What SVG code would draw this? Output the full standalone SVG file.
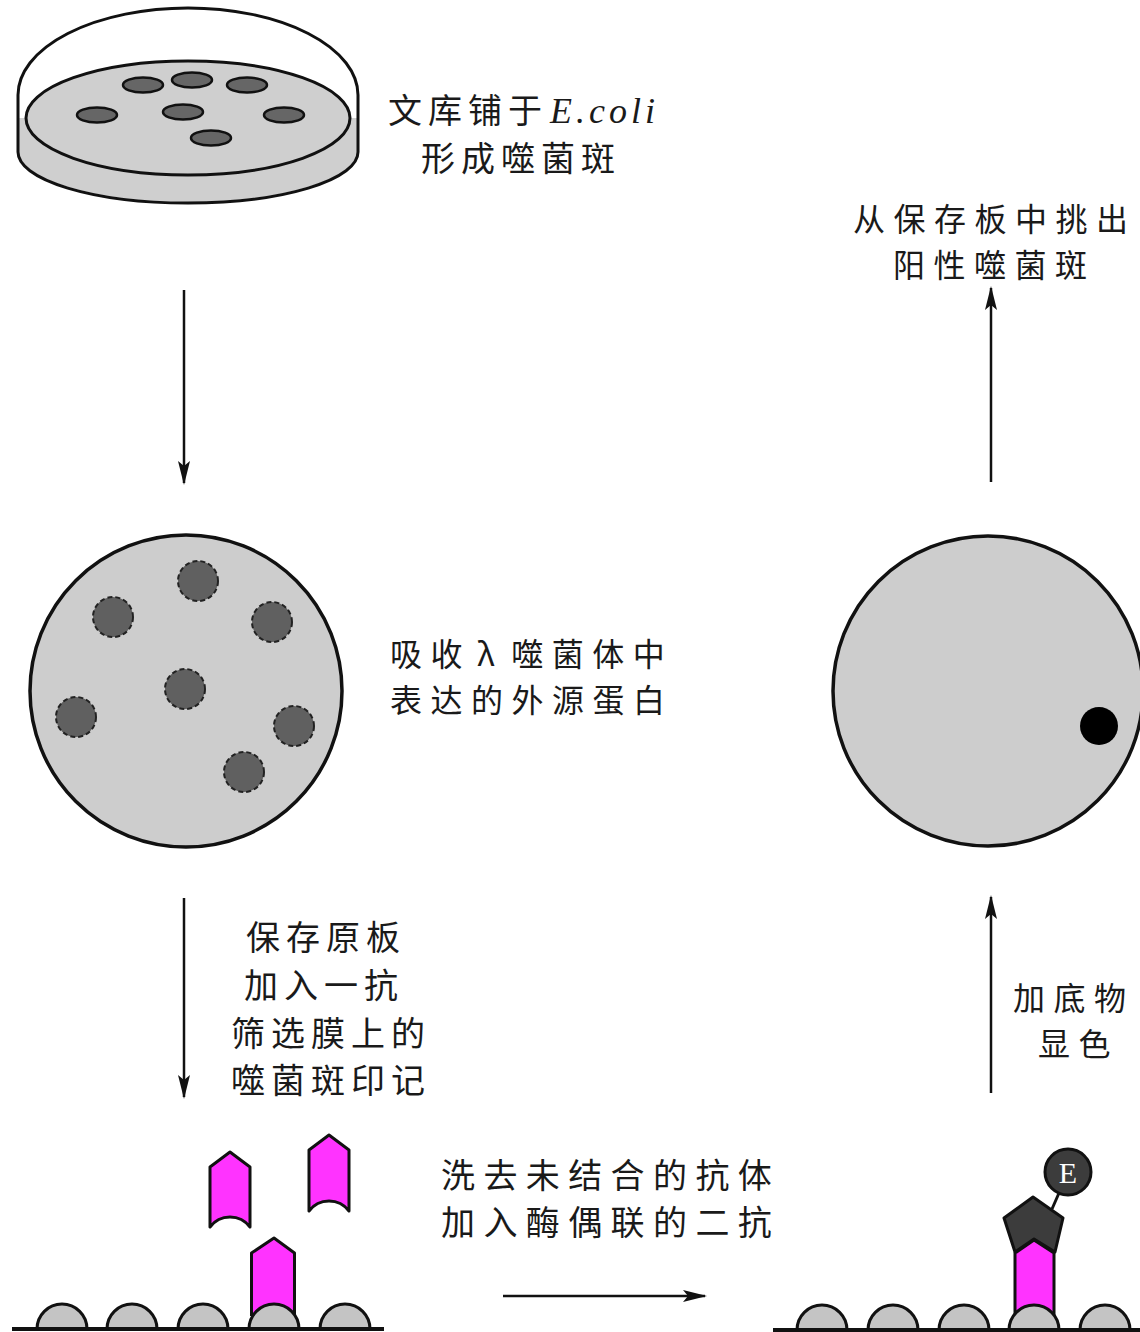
<svg xmlns="http://www.w3.org/2000/svg" width="1140" height="1332" viewBox="0 0 1140 1332">
  <style>
    .t { font-family: "Noto Sans CJK SC", "Noto Sans", sans-serif; font-size: 34px; letter-spacing: 6px; fill: #1a1a1a; }
    .ts { font-size: 32px; letter-spacing: 8.5px; }
    .tw { letter-spacing: 8.4px; }
    .it { font-family: "Liberation Serif", serif; font-style: italic; font-size: 36px; letter-spacing: 4px; }
    .ln { stroke: #111; stroke-width: 3; fill: none; }
    .arrow { stroke: #111; stroke-width: 2.5; fill: none; marker-end: url(#head); }
    .colony { fill: #666; stroke: #111; stroke-width: 2.5; }
    .spot { fill: #606060; stroke: #222; stroke-width: 2; stroke-dasharray: 5 3; }
    .membrane { fill: #cdcdcd; stroke: #111; stroke-width: 3.5; }
    .bump { fill: #c4c4c4; stroke: #111; stroke-width: 3; }
    .ab { fill: #ff33ff; stroke: #111; stroke-width: 3; stroke-linejoin: round; }
  </style>
  <defs>
    <marker id="head" markerWidth="24" markerHeight="12" refX="22" refY="6" orient="auto" markerUnits="userSpaceOnUse">
      <path d="M0,0 L24,6 L0,12 L5,6 Z" fill="#111"/>
    </marker>
    <path id="bumpShape" d="M-25,0 A25,25 0 0 1 25,0" class="bump"/>
  </defs>

  <!-- petri dish with plaques -->
  <g id="petri-dish">
    <path d="M26,118 A162,57 0 0 1 350,118 L358,118 L358,150 A170,52 0 0 1 18,150 L18,118 Z" fill="#cfcfcf"/>
    <ellipse cx="188" cy="118" rx="162" ry="57" fill="#cfcfcf" class="ln"/>
    <path d="M18,152 L18,95 A170,87 0 0 1 358,95 L358,152 A170,51 0 0 1 18,152 Z" class="ln"/>
    <ellipse class="colony" cx="143" cy="85" rx="20" ry="7.5"/>
    <ellipse class="colony" cx="192" cy="80" rx="20" ry="7.5"/>
    <ellipse class="colony" cx="247" cy="85" rx="20" ry="7.5"/>
    <ellipse class="colony" cx="97" cy="115" rx="20" ry="7.5"/>
    <ellipse class="colony" cx="183" cy="112" rx="20" ry="7.5"/>
    <ellipse class="colony" cx="284" cy="115" rx="20" ry="7.5"/>
    <ellipse class="colony" cx="211" cy="138" rx="20" ry="7.5"/>
  </g>
  <g id="label-plate">
    <text class="t" x="388" y="123">文库铺于<tspan class="it" dx="2">E.coli</tspan></text>
    <text class="t" x="421" y="171">形成噬菌斑</text>
  </g>

  <!-- nitrocellulose membrane with plaque imprints -->
  <g id="membrane-left">
    <circle class="membrane" cx="186" cy="691" r="156"/>
    <circle class="spot" cx="198" cy="581" r="20"/>
    <circle class="spot" cx="113" cy="617" r="20"/>
    <circle class="spot" cx="272" cy="622" r="20"/>
    <circle class="spot" cx="185" cy="689" r="20"/>
    <circle class="spot" cx="76" cy="717" r="20"/>
    <circle class="spot" cx="294" cy="726" r="20"/>
    <circle class="spot" cx="244" cy="772" r="20"/>
  </g>
  <g id="label-membrane">
    <text class="t ts" x="390" y="666">吸收<tspan dx="6">λ</tspan><tspan dx="8">噬菌体中</tspan></text>
    <text class="t ts" x="390" y="712">表达的外源蛋白</text>
  </g>

  <!-- developed membrane with one positive plaque -->
  <g id="membrane-right">
    <circle class="membrane" cx="988" cy="691" r="155"/>
    <circle cx="1099" cy="726" r="19" fill="#000"/>
  </g>
  <g id="label-pick">
    <text class="t ts" x="853" y="231">从保存板中挑出</text>
    <text class="t ts" x="893" y="277">阳性噬菌斑</text>
  </g>

  <!-- primary antibody binding -->
  <g id="primary-antibody">
    <path class="ab" d="M251.5,1316 L251.5,1253 L274,1238 L294.5,1253 L294.5,1316"/>
    <use href="#bumpShape" x="62" y="1329"/>
    <use href="#bumpShape" x="132" y="1329"/>
    <use href="#bumpShape" x="203" y="1329"/>
    <use href="#bumpShape" x="274" y="1329"/>
    <use href="#bumpShape" x="345" y="1329"/>
    <line x1="12" y1="1329" x2="384" y2="1329" stroke="#111" stroke-width="4"/>
    <path class="ab" d="M210,1167 L230,1152 L250,1167 L250,1227 A25,25 0 0 0 210,1227 Z"/>
    <path class="ab" d="M309,1150 L329,1135 L349,1150 L349,1211 A25,25 0 0 0 309,1211 Z"/>
  </g>
  <g id="label-primary">
    <text class="t" x="246" y="950">保存原板</text>
    <text class="t" x="244" y="998">加入一抗</text>
    <text class="t" x="231" y="1046">筛选膜上的</text>
    <text class="t" x="231" y="1093">噬菌斑印记</text>
  </g>

  <!-- enzyme-linked secondary antibody -->
  <g id="secondary-antibody">
    <path class="ab" d="M1015,1316 L1015,1253 L1034,1240 L1054,1253 L1054,1316"/>
    <use href="#bumpShape" x="822" y="1330"/>
    <use href="#bumpShape" x="893" y="1330"/>
    <use href="#bumpShape" x="964" y="1330"/>
    <use href="#bumpShape" x="1034" y="1330"/>
    <use href="#bumpShape" x="1105" y="1330"/>
    <line x1="773" y1="1330" x2="1140" y2="1330" stroke="#111" stroke-width="4"/>
    <line x1="1052" y1="1209" x2="1059" y2="1193" stroke="#111" stroke-width="3"/>
    <path d="M1033,1197 L1063,1218 L1055,1252 L1034,1239 L1015,1252 L1004,1218 Z" fill="#3c3c3c" stroke="#111" stroke-width="3" stroke-linejoin="round"/>
    <circle cx="1068" cy="1172" r="23" fill="#3c3c3c" stroke="#111" stroke-width="3"/>
    <text x="1068" y="1183" text-anchor="middle" font-family="Liberation Serif, serif" font-size="30" fill="#fff">E</text>
  </g>
  <g id="label-secondary">
    <text class="t tw" x="441" y="1188">洗去未结合的抗体</text>
    <text class="t tw" x="441" y="1235">加入酶偶联的二抗</text>
  </g>
  <g id="label-substrate">
    <text class="t ts" x="1013" y="1010">加底物</text>
    <text class="t ts" x="1038" y="1056">显色</text>
  </g>

  <!-- connectors -->
  <g id="connectors">
    <line class="arrow" x1="184" y1="290" x2="184" y2="483"/>
    <line class="arrow" x1="184" y1="898" x2="184" y2="1097"/>
    <line class="arrow" x1="503" y1="1296" x2="705" y2="1296"/>
    <line class="arrow" x1="991" y1="1093" x2="991" y2="897"/>
    <line class="arrow" x1="991" y1="482" x2="991" y2="288"/>
  </g>
</svg>
